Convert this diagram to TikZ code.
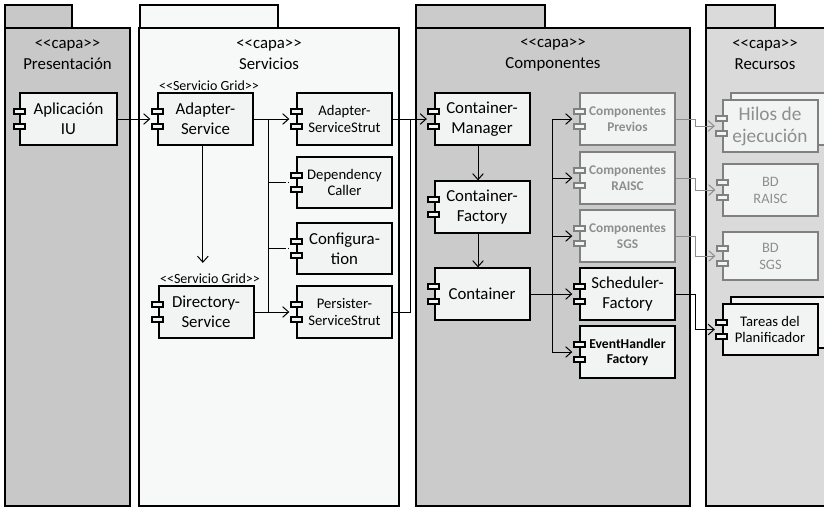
\documentclass[tikz,border=0pt]{standalone}
\usepackage{fontspec}
\setmainfont{Carlito}[Ligatures=TeXOff]
\usepackage{tikz}
\usetikzlibrary{
  arrows.meta,  % Tip "Straight Barb"
  positioning,
  calc,         % Calculations $...$
  shadows       % "copy shadow" for stacked boxes
}
\definecolor{presfill}{HTML}{C8C8C8}
\definecolor{servfill}{HTML}{F7F9F8}
\definecolor{componfill}{HTML}{CBCBCB}
\definecolor{recfill}{HTML}{DADADA}
\definecolor{boxfill}{HTML}{F2F3F3}
\definecolor{oldgray}{HTML}{808080}
\definecolor{oldtext}{HTML}{8E8E8E}
\definecolor{oldline}{HTML}{8C8C8C}
\def\boxw{71.25pt}
\def\boxh{38.5pt}
\newcommand{\ports}[2][black]{%
  \foreach \dy in {-7.5,7}
    \draw[port,draw=#1] ($(#2.west)+(-5.5,\dy-2.5)$) rectangle ++(11,5);
}
\tikzset{
  >={Straight Barb[length=4.5pt,width=8pt]},
  pkg/.style={draw,line width=1.5pt},
  capa/.style={
    align=center,
    font=\fontsize{12.6}{15.75}\selectfont
  },
  comp/.style={
    draw,
    line width=1.5pt,
    fill=boxfill,
    minimum width=\boxw,
    minimum height=\boxh,
    inner sep=1pt,
    align=center,
    font=\fontsize{12.6}{15}\selectfont
  },
  small comp/.style={
    comp,
    font=\fontsize{11}{12.5}\selectfont
  },
  old comp/.style={
    comp,
    draw=oldgray,
    text=oldtext,
    font=\bfseries\fontsize{10}{12}\selectfont
  },
  old res/.style={
    comp,
    draw=oldgray,
    text=oldtext,
    font=\fontsize{10.8}{12.75}\selectfont
  },
  stacked/.style={copy shadow={shadow xshift=6pt,shadow yshift=5.25pt}},
  stereo/.style={inner sep=0pt,font=\fontsize{10.5}{12}\selectfont},
  port/.style={line width=1.5pt,fill=boxfill},
  to port/.style={->,shorten >=5pt},
  dep/.style={dash pattern=on 13.5pt off 1.5pt on 3pt off 1.5pt}
}

\begin{document}
\begin{tikzpicture}[x=0.75pt,y=-0.75pt,line width=0.75pt]
\useasboundingbox (0,0) rectangle (824,508);
\clip (0,0) rectangle (824,508);
% capas
\draw[pkg,fill=presfill] (5,5) rectangle (72,28) (5,28) rectangle (130,506);
\draw[pkg,fill=servfill] (140,5) rectangle (278,28) (139,28) rectangle (399,506);
\draw[pkg,fill=componfill] (416,5) rectangle (545,28) (416,28) rectangle (690,506);
\draw[pkg,fill=recfill] (706,5) rectangle (775,28) (706,28) rectangle (850,506);
\node[capa] (presentacion) at (67.5,55) {<<capa>>\\Presentación};
\node[capa] (servicios) at (269,55) {<<capa>>\\Servicios};
\node[capa] (componentes) at (553,55) {<<capa>>\\Componentes};
\node[capa] (recursos) at (765,55) {<<capa>>\\Recursos};

% componentes
\node[comp,minimum width=72.75pt] (app) at (68.5,119) {Aplicación\\IU};
\node[comp] (adapter) at (205.5,119) {Adapter-\\Service};
\node[stereo] (adapterst) at (209,86) {<<Servicio Grid>>};
\node[comp] (directory) at (206,312) {Directory-\\Service};
\node[stereo] (directoryst) at (210,279) {<<Servicio Grid>>};
\node[small comp] (adstrut) at (344.5,119) {Adapter-\\ServiceStrut};
\node[small comp] (depcaller) at (344.5,182.5) {Dependency\\Caller};
\node[comp] (config) at (344.5,248.5) {Configura-\\tion};
\node[small comp] (perstrut) at (344.5,312) {Persister-\\ServiceStrut};

\node[comp] (cmanager) at (482,119) {Container-\\Manager};
\node[comp] (cfactory) at (482,207) {Container-\\Factory};
\node[comp] (container) at (482,294) {Container};
\node[old comp] (previos) at (627.5,119) {Componentes\\Previos};
\node[old comp] (raisc) at (627.5,178) {Componentes\\RAISC};
\node[old comp] (sgs) at (627.5,236) {Componentes\\SGS};
\node[comp] (schedfac) at (627.5,294) {Scheduler-\\Factory};
\node[comp,font=\bfseries\fontsize{10.2}{11.25}\selectfont] (evhandler) at (627.5,352) {EventHandler\\Factory};

\node[old res,stacked,font=\fontsize{14.5}{16.5}\selectfont] (hilos) at (770,126) {Hilos de\\ejecución};
\node[old res] (bdraisc) at (770.5,190) {BD\\RAISC};
\node[old res,minimum height=36pt] (bdsgs) at (770.5,256) {BD\\SGS};
\node[small comp,stacked,font=\fontsize{11}{12}\selectfont] (tareas) at (770,329.5) {Tareas del\\Planificador};

\foreach \n in {app,adapter,directory,adstrut,depcaller,config,perstrut,
                cmanager,cfactory,container,schedfac,evhandler,tareas}
  \ports{\n};
\foreach \n in {previos,raisc,sgs,hilos,bdraisc,bdsgs}
  \ports[oldgray]{\n};

% conectores
\draw[to port] (app) -- (adapter);
\coordinate (split) at ($(adapter.east)!0.34!(adstrut.west)$);
\draw[to port] (adapter) -- (adstrut);
\draw (split) -- (split |- perstrut.west);
\draw[dep,shorten >=5pt] (split |- depcaller.west) -- (depcaller.west);
\draw[dep,shorten >=5pt] (split |- config.west) -- (config.west);
\draw[->,shorten >=8pt] ([xshift=-2pt]adapter.south) -- ([xshift=-2pt]adapter.south |- directoryst.north);
\draw[to port] (directory) -- (perstrut);

\coordinate (sjoin) at ($(adstrut.east)!0.42!(cmanager.west)$);
\draw[to port] (adstrut) -- (cmanager);
\draw (perstrut.east) -| (sjoin);

\draw[->] ([xshift=-3pt]cmanager.south) -- ([xshift=-3pt]cfactory.north);
\draw[->] ([xshift=-3pt]cfactory.south) -- ([xshift=-3pt]container.north);

\coordinate (cjoin) at ($(container.east)!0.45!(previos.west)$);
\draw (container.east) -- (cjoin |- container.east);
\draw (cjoin |- previos.west) -- (cjoin |- evhandler.west);
\foreach \n in {previos,raisc,sgs,schedfac,evhandler}
  \draw[to port] (cjoin |- \n.west) -- (\n.west);

\foreach \a/\b/\c in {previos/hilos/oldline,raisc/bdraisc/oldline,
                      sgs/bdsgs/oldline,schedfac/tareas/black}
  \draw[to port,\c] (\a.east) -| ($(\a.east)!0.42!(\b.west)$) |- (\b.west);
\end{tikzpicture}
\end{document}
